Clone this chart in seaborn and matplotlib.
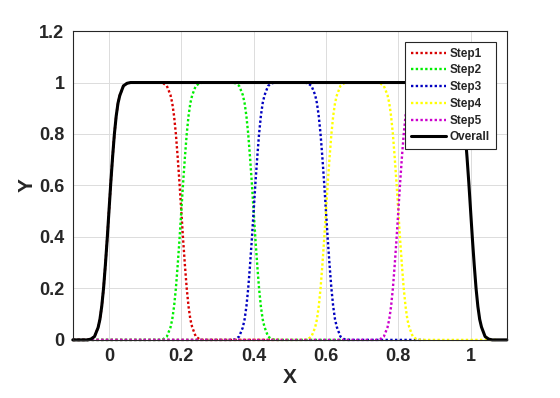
import numpy as np
import pandas as pd
import matplotlib
matplotlib.use('Agg')
import matplotlib.pyplot as plt
import seaborn as sns

# edge shape (offset from edge centre -> value)
edge_offsets = [-0.06, -0.05, -0.04, -0.03, -0.025, -0.02, -0.015, -0.01, -0.005, 0.0,
                0.005, 0.01, 0.015, 0.02, 0.025, 0.03, 0.04, 0.05, 0.06]
edge_values = [0.0, 0.003, 0.013, 0.048, 0.08, 0.13, 0.2, 0.29, 0.39, 0.5,
               0.61, 0.71, 0.8, 0.87, 0.92, 0.95, 0.987, 0.997, 1.0]

# steps
step_names = ['Step1', 'Step2', 'Step3', 'Step4', 'Step5']
step_rise = [0.0, 0.2, 0.4, 0.6, 0.8]
step_fall = [0.2, 0.4, 0.6, 0.8, None]
step_end = [0.47, 0.67, 0.87, 1.07, 0.97]
step_colors = ['#d80000', '#00ee00', '#0000c0', '#ffff00', '#cc00cc']

# overall curve
overall_rise = 0.0
overall_fall = 1.0
x_start, x_stop = -0.1, 1.1


def build_curve(rise, fall, stop):
    xs = [x_start]
    ys = [0.0]
    for off, v in zip(edge_offsets, edge_values):
        xs.append(rise + off)
        ys.append(v)
    if fall is not None:
        for off, v in zip(edge_offsets, edge_values):
            xs.append(fall + off)
            ys.append(1.0 - v)
    xs.append(stop)
    ys.append(ys[-1])
    return pd.DataFrame({'x': xs, 'y': ys})


sns.set_style('white')
plt.rcParams['font.family'] = ['Liberation Sans', 'DejaVu Sans']
plt.rcParams['font.weight'] = 'bold'

fig = plt.figure(figsize=(5.6, 3.98), dpi=100)
ax = fig.add_axes([0.130, 0.146, 0.775, 0.776])

for name, r, f, e, c in zip(step_names, step_rise, step_fall, step_end, step_colors):
    df = build_curve(r, f, e)
    sns.lineplot(data=df, x='x', y='y', ax=ax, color=c, linewidth=1.7,
                 linestyle=(0, (1, 1)), label=name, sort=False, estimator=None,
                 clip_on=False)

df = build_curve(overall_rise, overall_fall, x_stop)
sns.lineplot(data=df, x='x', y='y', ax=ax, color='black', linewidth=2.2,
             label='Overall', sort=False, estimator=None, clip_on=False)

ax.set_xlim(-0.1, 1.1)
ax.set_ylim(0, 1.2)
ax.set_xticks([0, 0.2, 0.4, 0.6, 0.8, 1.0])
ax.set_xticklabels(['0', '0.2', '0.4', '0.6', '0.8', '1'])
ax.set_yticks([0, 0.2, 0.4, 0.6, 0.8, 1.0, 1.2])
ax.set_yticklabels(['0', '0.2', '0.4', '0.6', '0.8', '1', '1.2'])
ax.tick_params(direction='in', length=3, labelsize=13, colors='#262626',
               width=0.6, pad=6)
ax.grid(True, color='#dcdcdc', linewidth=0.7)
ax.set_axisbelow(True)
for s in ax.spines.values():
    s.set_color('#262626')
    s.set_linewidth(0.8)

ax.set_xlabel('X', fontsize=15, fontweight='bold', color='#262626', labelpad=2)
ax.set_ylabel('Y', fontsize=15, fontweight='bold', color='#262626', labelpad=2)

leg = ax.legend(loc='upper right', fontsize=8.5, frameon=True, fancybox=False,
                handlelength=3.0, labelspacing=0.4, borderpad=0.5,
                handletextpad=0.3, borderaxespad=0.0,
                bbox_to_anchor=(0.975, 0.965))
leg.get_frame().set_edgecolor('#262626')
leg.get_frame().set_linewidth(0.8)
leg.get_frame().set_alpha(1.0)
for t in leg.get_texts():
    t.set_fontweight('bold')

plt.savefig('out.png', dpi=100)
